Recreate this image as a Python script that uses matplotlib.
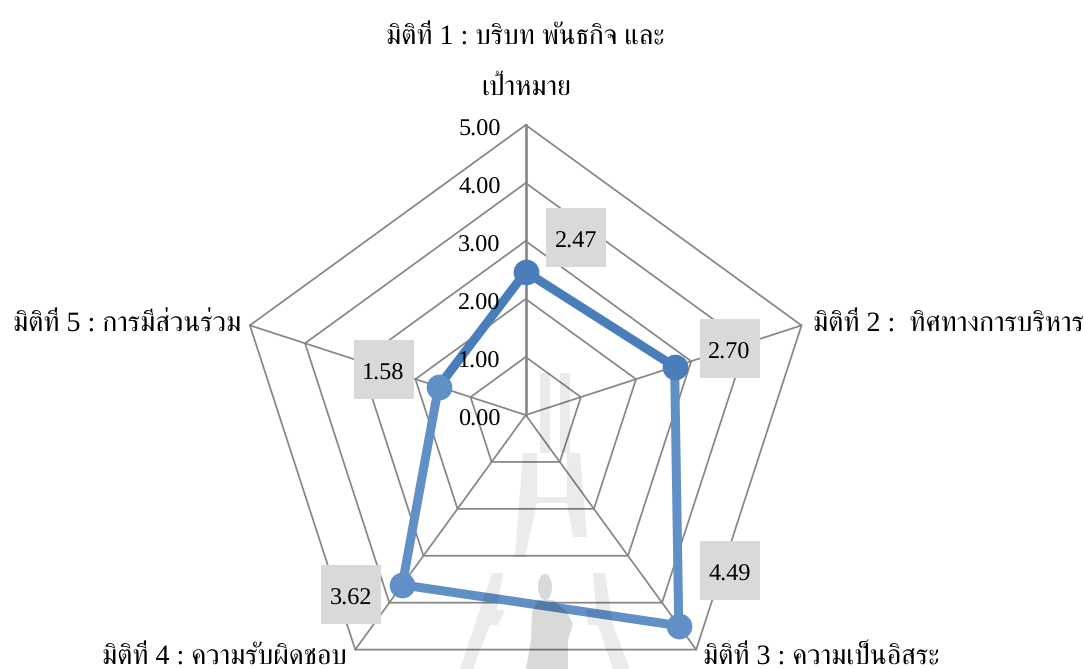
import numpy as np
import matplotlib
matplotlib.use("Agg")
import matplotlib.pyplot as plt
from matplotlib.patches import Ellipse, Polygon, Rectangle
from matplotlib.transforms import IdentityTransform

# Donnees
categories = ["มิติที่ 1 : บริบท พันธกิจ และ\nเป้าหมาย",
              "มิติที่ 2 :  ทิศทางการบริหาร",
              "มิติที่ 3 : ความเป็นอิสระ",
              "มิติที่ 4 : ความรับผิดชอบ",
              "มิติที่ 5 : การมีส่วนร่วม"]
values = [2.47, 2.70, 4.49, 3.62, 1.58]
levels = [1, 2, 3, 4, 5]
level_labels = ["0.00", "1.00", "2.00", "3.00", "4.00", "5.00"]

W, H = 1084, 669
CX, CY, RADIUS = 525.7, 415.0, 290.0
DARK = "#4a7ebb"
LIGHT = "#6090c6"
GRID = "#868686"
FONTS = ["Liberation Serif", "FreeSerif"]

plt.rcParams["text.hinting"] = "no_hinting"

angles = np.arange(5) * 2 * np.pi / 5

fig = plt.figure(figsize=(W / 100, H / 100), dpi=100)
ax = fig.add_axes([(CX - RADIUS) / W, (H - CY - RADIUS) / H,
                   2 * RADIUS / W, 2 * RADIUS / H], polar=True)
ax.set_theta_zero_location("N")
ax.set_theta_direction(-1)
ax.set_ylim(0, 5)
ax.axis("off")

# Grille pentagonale et rayons
closed = np.append(angles, angles[0])
for level in levels:
    ax.plot(closed, [level] * 6, color=GRID, lw=1.25, zorder=1, clip_on=False)
for i, angle in enumerate(angles):
    ax.plot([angle, angle], [0, 5], color=GRID, lw=1.9 if i == 0 else 1.25,
            zorder=1, clip_on=False)

# Serie : segments de deux teintes comme sur l'original
segment_colors = [DARK, LIGHT, LIGHT, LIGHT, DARK]
marker_colors = [DARK, DARK, LIGHT, LIGHT, LIGHT]
for i in range(5):
    j = (i + 1) % 5
    ax.plot([angles[i], angles[j]], [values[i], values[j]],
            color=segment_colors[i], lw=6.5, zorder=3, solid_capstyle="butt",
            clip_on=False)
for angle, val, col in zip(angles, values, marker_colors):
    ax.plot([angle], [val], "o", color=col, ms=18.5, mew=0, zorder=4, clip_on=False)

# Etiquettes de valeurs dans des boites grises
box_centers = [(50, 34), (55, 18), (51, 55), (-51, -10), (-55, 17)]
for angle, val, (dx, dy) in zip(angles, values, box_centers):
    px, py = ax.transData.transform((angle, val))
    ax.add_artist(Rectangle((px + dx - 30, py + dy - 29.5), 60, 59,
                            transform=IdentityTransform(), fc="#d9d9d9",
                            ec="none", zorder=2, clip_on=False))
    ax.annotate(f"{val:.2f}", (angle, val), xytext=(dx, dy - 4),
                textcoords="offset pixels", ha="center", va="center",
                family=FONTS, fontsize=17.5, color="black", zorder=5,
                annotation_clip=False)

# Echelle radiale
for level, label in enumerate(level_labels):
    ax.annotate(label, (0, level), xytext=(-25, -5),
                textcoords="offset pixels", ha="right", va="center",
                family=FONTS, fontsize=17.5, color="black", zorder=5,
                annotation_clip=False)

# Noms des dimensions
label_offsets = [(0, 24, "center", "bottom"), (11, 1, "left", "center"),
                 (7, -8, "left", "center"), (-8, -8, "right", "center"),
                 (-9, 1, "right", "center")]
for angle, label, (dx, dy, align, valign) in zip(angles, categories, label_offsets):
    ax.annotate(label, (angle, 5), xytext=(dx, dy), textcoords="offset pixels",
                ha=align, va=valign, family=FONTS, fontsize=20.2,
                linespacing=2.3, color="black", annotation_clip=False)

# Filigrane de l'embleme, en pixels depuis le coin haut gauche
strips = [
    [(540, 373), (550, 373), (550, 453), (537, 453), (537, 497), (567, 497),
     (567, 453), (560, 453), (560, 373), (570, 373), (570, 453), (580, 453),
     (587, 537), (573, 537), (567, 503), (537, 503), (525, 557), (515, 557),
     (523, 453), (540, 453)],
    [(492, 573), (503, 573), (497, 610), (505, 610), (498, 625), (490, 625),
     (473, 669), (460, 669)],
    [(593, 573), (605, 573), (613, 625), (630, 669), (613, 669), (598, 625),
     (588, 625), (586, 610), (596, 610)],
]
for pts in strips:
    fig.add_artist(Polygon([(x, H - y) for x, y in pts], transform=IdentityTransform(),
                           fc="black", ec="none", alpha=0.08, zorder=10))
fig.add_artist(Ellipse((545, H - 587), 14, 26, transform=IdentityTransform(),
                       fc="black", ec="none", alpha=0.15, zorder=10))
body = [(538, 600), (553, 600), (567, 612), (573, 624), (568, 640), (568, 669),
        (526, 669), (531, 640), (532, 612)]
fig.add_artist(Polygon([(x, H - y) for x, y in body], transform=IdentityTransform(),
                       fc="black", ec="none", alpha=0.15, zorder=10))

fig.savefig("out.png", dpi=100)
